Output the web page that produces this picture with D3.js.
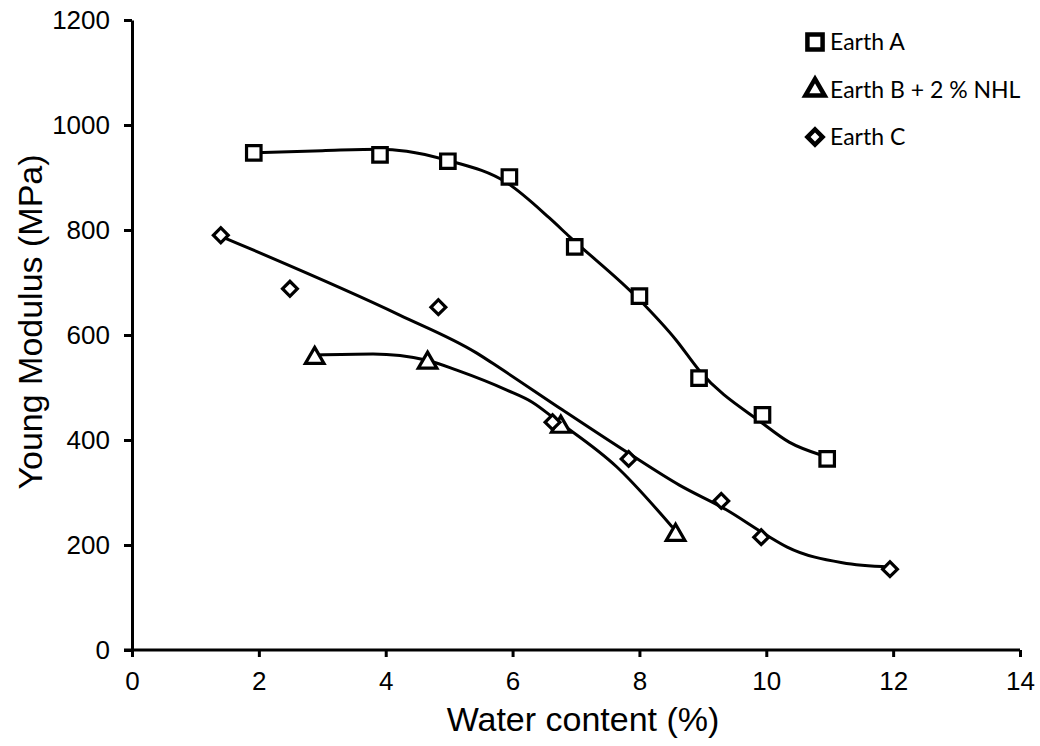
<!DOCTYPE html>
<html>
<head>
<meta charset="utf-8">
<script src="https://cdn.jsdelivr.net/npm/d3@7/dist/d3.min.js"></script>
<style>
html,body{margin:0;padding:0;background:#fff;}
svg{display:block;}
</style>
</head>
<body>
<svg id="chart" width="1040" height="746"></svg>
<script>
// ---- data ----
const xTicks = [0, 2, 4, 6, 8, 10, 12, 14];
const yTicks = [0, 200, 400, 600, 800, 1000, 1200];

const earthA_x = [1.92, 3.91, 4.98, 5.95, 6.98, 8.0, 8.94, 9.94, 10.96];
const earthA_y = [947, 943, 931, 901, 768, 674, 518, 448, 364];

const earthB_x = [2.88, 4.66, 6.76, 8.57];
const earthB_y = [556, 547, 425, 219];

const earthC_x = [1.40, 2.49, 4.83, 6.63, 7.83, 9.29, 9.92, 11.95];
const earthC_y = [790, 688, 653, 434, 364, 284, 215, 154];

// fitted trend curves
const fitA_x = [1.94, 3.0, 3.91, 4.33, 4.96, 5.91, 6.58, 6.90, 8.0, 8.58, 8.94, 9.94, 10.36, 10.85];
const fitA_y = [947, 951, 954, 950, 933, 890, 823, 787, 667, 590, 533, 432, 396, 372];

const fitB_x = [2.88, 3.80, 4.65, 5.12, 5.91, 6.31, 6.69, 7.64, 8.52];
const fitB_y = [562, 564, 552, 533, 495, 472, 438, 349, 234];

const fitC_x = [1.40, 4.22, 5.43, 5.80, 6.79, 7.80, 8.63, 9.37, 10.0, 10.33, 11.2, 11.94];
const fitC_y = [788, 638, 566, 537, 457, 377, 314, 267, 219, 196, 166, 158];

const seriesNames = ["Earth A", "Earth B + 2 % NHL", "Earth C"];
const xTitle = "Water content (%)";
const yTitle = "Young Modulus (MPa)";

// ---- layout ----
const svg = d3.select("#chart");
const m = {left: 132, top: 20, right: 20, bottom: 96};
const W = 1040, H = 746;
const x = d3.scaleLinear().domain([0, 14]).range([m.left, W - m.right]);
const y = d3.scaleLinear().domain([0, 1200]).range([H - m.bottom, m.top]);

const tickFont = "Liberation Sans, Arial, sans-serif";

// axes
const gx = svg.append("g").attr("transform", `translate(0,${y(0)})`)
  .call(d3.axisBottom(x).tickValues(xTicks).tickSizeInner(7).tickSizeOuter(0).tickPadding(15).tickFormat(d3.format("d")));
const gy = svg.append("g").attr("transform", `translate(${x(0)},0)`)
  .call(d3.axisLeft(y).tickValues(yTicks).tickSizeInner(8).tickSizeOuter(0).tickPadding(14).tickFormat(d3.format("d")));
[gx, gy].forEach(g => {
  g.select(".domain").attr("stroke", "#000").attr("stroke-width", 3);
  g.selectAll(".tick line").attr("stroke", "#000").attr("stroke-width", 3);
  g.selectAll(".tick text").attr("fill", "#000").style("font-family", tickFont).style("font-size", "26px");
});
gx.select(".domain").attr("d", `M${x(0) - 8},0H${x(14)}`);

// titles
svg.append("text").attr("x", 583).attr("y", 731)
  .attr("text-anchor", "middle").style("font-family", tickFont).style("font-size", "34px").text(xTitle);
svg.append("text").attr("transform", `translate(42,322) rotate(-90)`)
  .attr("text-anchor", "middle").style("font-family", tickFont).style("font-size", "34px").text(yTitle);

// fitted curves
const line = d3.line().x(d => x(d[0])).y(d => y(d[1])).curve(d3.curveMonotoneX);
const fits = [[fitA_x, fitA_y], [fitB_x, fitB_y], [fitC_x, fitC_y]];
fits.forEach(([fx, fy]) => {
  svg.append("path").datum(fx.map((v, i) => [v, fy[i]]))
    .attr("d", line).attr("fill", "none").attr("stroke", "#000").attr("stroke-width", 3);
});

// markers
const symSquare = d3.symbol().type(d3.symbolSquare).size(210);
const symTri = d3.symbol().type(d3.symbolTriangle).size(150);
const symDiamond = d3.symbol().type(d3.symbolSquare).size(110);

function drawMarkers(xs, ys, sym, rot) {
  svg.append("g").selectAll("path").data(xs.map((v, i) => [v, ys[i]])).join("path")
    .attr("transform", d => `translate(${x(d[0])},${y(d[1])}) rotate(${rot})`)
    .attr("d", sym).attr("fill", "#fff").attr("stroke", "#000").attr("stroke-width", 3.2);
}
drawMarkers(earthA_x, earthA_y, symSquare, 0);
drawMarkers(earthB_x, earthB_y, symTri, 0);
drawMarkers(earthC_x, earthC_y, symDiamond, 45);

// legend
const legFont = "Lato, 'Open Sans', sans-serif";
const legSymSq = d3.symbol().type(d3.symbolSquare).size(230);
const legSymTri = d3.symbol().type(d3.symbolTriangle).size(160);
const legSymDi = d3.symbol().type(d3.symbolSquare).size(115);
const legSyms = [[legSymSq, 0], [legSymTri, 0], [legSymDi, 45]];
const legY = [42, 90, 137];
seriesNames.forEach((name, i) => {
  const g = svg.append("g").attr("transform", `translate(815,${legY[i]})`);
  g.append("path").attr("d", legSyms[i][0]).attr("transform", `rotate(${legSyms[i][1]})`)
    .attr("fill", "#fff").attr("stroke", "#000").attr("stroke-width", 4.5);
  g.append("text").attr("x", 15).attr("dy", "0.36em").style("font-family", legFont)
    .style("font-size", "23px").attr("fill", "#000").text(name);
});
</script>
</body>
</html>
